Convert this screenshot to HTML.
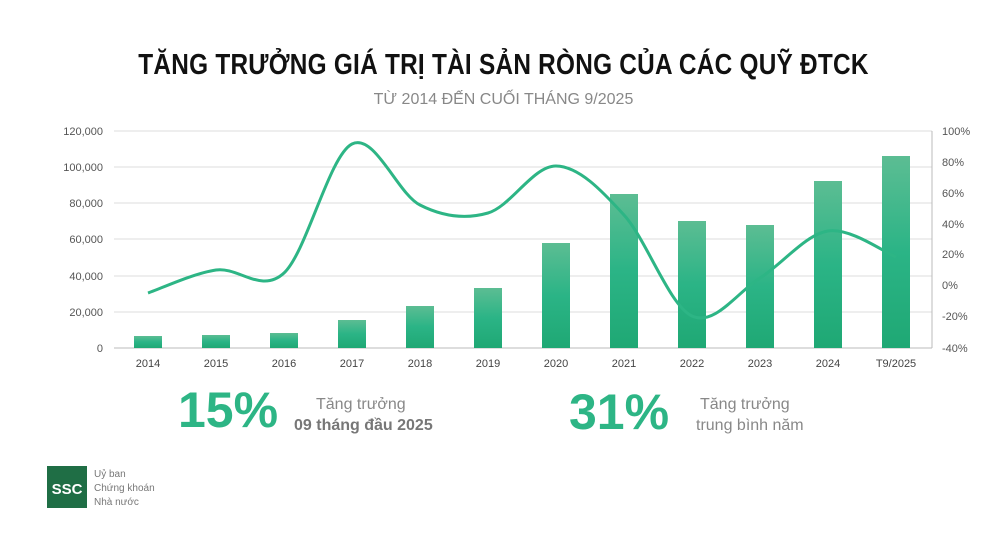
<!DOCTYPE html>
<html><head><meta charset="utf-8"><style>
body{margin:0;width:1007px;height:553px;background:#fff;overflow:hidden;font-family:"Liberation Sans",sans-serif;position:relative}
.t{position:absolute;left:0;width:1007px;text-align:center}
</style></head><body>
<div class="t" style="top:49px;font-size:29px;font-weight:900;color:#111;letter-spacing:0.3px;transform:scaleX(0.84)">TĂNG TRƯỞNG GIÁ TRỊ TÀI SẢN RÒNG CỦA CÁC QUỸ ĐTCK</div>
<div class="t" style="top:91px;font-size:16px;color:#888">TỪ 2014 ĐẾN CUỐI THÁNG 9/2025</div>
<svg width="1007" height="553" style="position:absolute;left:0;top:0">
<defs><linearGradient id="g" x1="0" y1="0" x2="0" y2="1"><stop offset="0" stop-color="#5cbd93"/><stop offset="0.5" stop-color="#2bb486"/><stop offset="1" stop-color="#1fa874"/></linearGradient></defs>
<g stroke="#dcdcdc" stroke-width="1">
<line x1="114" x2="932" y1="131" y2="131"/><line x1="114" x2="932" y1="167" y2="167"/><line x1="114" x2="932" y1="203" y2="203"/><line x1="114" x2="932" y1="239" y2="239"/><line x1="114" x2="932" y1="276" y2="276"/><line x1="114" x2="932" y1="312" y2="312"/></g>
<line x1="114" x2="932" y1="348" y2="348" stroke="#bbb"/>
<line x1="932" x2="932" y1="131" y2="348" stroke="#bbb"/>
<g fill="#555" font-size="11" text-anchor="end">
<text x="103" y="135">120,000</text><text x="103" y="171">100,000</text><text x="103" y="207">80,000</text><text x="103" y="243">60,000</text><text x="103" y="280">40,000</text><text x="103" y="316">20,000</text><text x="103" y="352">0</text></g>
<g fill="#555" font-size="11">
<text x="942" y="135">100%</text><text x="942" y="166">80%</text><text x="942" y="197">60%</text><text x="942" y="228">40%</text><text x="942" y="258">20%</text><text x="942" y="289">0%</text><text x="942" y="320">-20%</text><text x="942" y="352">-40%</text></g>
<g fill="url(#g)">
<rect x="134" y="336" width="28" height="12"/><rect x="202" y="335" width="28" height="13"/><rect x="270" y="333" width="28" height="15"/><rect x="338" y="320" width="28" height="28"/><rect x="406" y="306" width="28" height="42"/><rect x="474" y="288" width="28" height="60"/><rect x="542" y="243" width="28" height="105"/><rect x="610" y="194" width="28" height="154"/><rect x="678" y="221" width="28" height="127"/><rect x="746" y="225" width="28" height="123"/><rect x="814" y="181" width="28" height="167"/><rect x="882" y="156" width="28" height="192"/></g>
<path id="ln" fill="none" stroke="#2db585" stroke-width="3" d=""/>
<g fill="#444" font-size="11" text-anchor="middle">
<text x="148" y="367">2014</text><text x="216" y="367">2015</text><text x="284" y="367">2016</text><text x="352" y="367">2017</text><text x="420" y="367">2018</text><text x="488" y="367">2019</text><text x="556" y="367">2020</text><text x="624" y="367">2021</text><text x="692" y="367">2022</text><text x="760" y="367">2023</text><text x="828" y="367">2024</text><text x="896" y="367">T9/2025</text></g>
<rect x="47" y="466" width="40" height="42" fill="#1f6e45"/>
<text x="67" y="494" fill="#fff" font-size="15" font-weight="bold" text-anchor="middle">SSC</text>
<g fill="#777" font-size="10"><text x="94" y="477">Uỷ ban</text><text x="94" y="491">Chứng khoán</text><text x="94" y="505">Nhà nước</text></g>
</svg>
<div style="position:absolute;left:178px;top:381px;font-size:50px;font-weight:bold;color:#2db585">15%</div>
<div style="position:absolute;left:316px;top:396px;font-size:16px;color:#888">Tăng trưởng</div>
<div style="position:absolute;left:294px;top:417px;font-size:16px;color:#777;font-weight:bold">09 tháng đầu 2025</div>
<div style="position:absolute;left:569px;top:383px;font-size:50px;font-weight:bold;color:#2db585">31%</div>
<div style="position:absolute;left:700px;top:396px;font-size:16px;color:#888">Tăng trưởng</div>
<div style="position:absolute;left:696px;top:417px;font-size:16px;color:#888">trung bình năm</div>
<script>
var p=[[148,293],[216,270],[284,273],[352,144],[420,205],[488,213],[556,166],[624,215],[692,316],[760,278],[828,231],[896,257]];
var d="M"+p[0];
for(var i=0;i<p.length-1;i++){var a=p[i-1]||p[i],b=p[i],c=p[i+1],e=p[i+2]||c;
d+=" C"+(b[0]+(c[0]-a[0])/6)+","+(b[1]+(c[1]-a[1])/6)+" "+(c[0]-(e[0]-b[0])/6)+","+(c[1]-(e[1]-b[1])/6)+" "+c[0]+","+c[1];}
document.getElementById("ln").setAttribute("d",d);
</script>
</body></html>
